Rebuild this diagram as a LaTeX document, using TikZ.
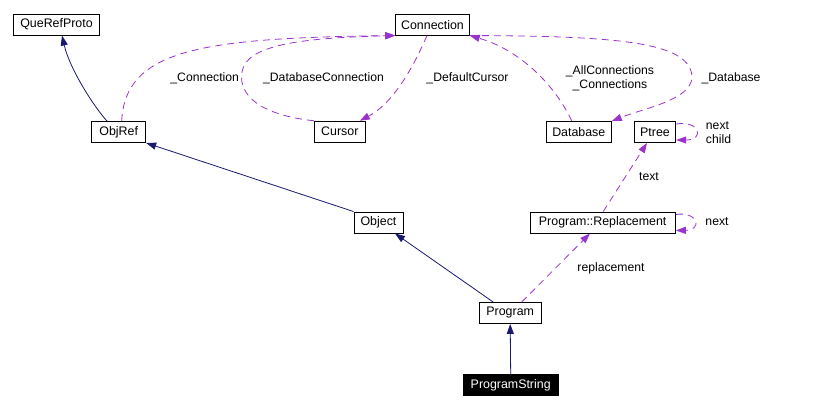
\documentclass[tikz,border=0pt]{standalone}
\usepackage{fontspec}
\setmainfont{Liberation Sans}
\usetikzlibrary{arrows.meta}
\definecolor{inhcol}{HTML}{191970}
\definecolor{usecol}{HTML}{9A32CD}
\tikzset{
  cls/.style={draw=black, fill=white, line width=0.9pt, inner xsep=5pt, inner ysep=0pt,
    minimum height=21pt, font=\fontsize{12.4}{14}\selectfont},
  clsdark/.style={cls, fill=black, text=white},
  inh/.style={draw=inhcol, line width=0.8pt, -{Triangle[length=10pt,width=7pt]}},
  use/.style={draw=usecol, line width=0.8pt, dash pattern=on 7pt off 5pt,
    -{Triangle[length=10pt,width=7pt,fill=usecol]}},
  lbl/.style={inner sep=0pt, font=\fontsize{12.2}{14}\selectfont, align=center},
}
\begin{document}
\begin{tikzpicture}[x=1pt,y=-1pt]
\useasboundingbox (0,0) rectangle (816,409);
\node[cls, minimum width=85.3pt] (querefproto) at (56.5,24.6) {QueRefProto};
\node[cls, minimum width=54pt] (objref) at (118.7,132) {ObjRef};
\node[cls, minimum width=73.6pt] (connection) at (432.5,24.6) {Connection};
\node[cls, minimum width=51pt] (cursor) at (339.8,131.7) {Cursor};
\node[cls, minimum width=65pt] (database) at (578.8,132) {Database};
\node[cls, minimum width=41.4pt] (ptree) at (655,132) {Ptree};
\node[cls, minimum width=49pt] (object) at (378.5,222.5) {Object};
\node[cls, minimum width=145.3pt] (progrep) at (602.7,222.5) {Program::Replacement};
\node[cls, minimum width=61.7pt] (program) at (510.2,313) {Program};
\node[clsdark, minimum width=95.3pt] (progstring) at (510.7,385) {ProgramString};

% inheritance
\draw[inh] ([xshift=-11.7pt]objref.north) .. controls (95,108) and (70,70) .. ([xshift=5.5pt]querefproto.south);
\draw[inh] (object.north west) -- (objref.south east);
\draw[inh] ([xshift=-17pt]program.north) -- ([xshift=16.5pt]object.south);
\draw[inh] (progstring.north) -- (program.south);

% usage
\draw[use] ([xshift=3pt]objref.north) .. controls (125,50) and (200,38) .. (connection.south west);
\draw[use] (cursor.north west) .. controls (260,115) and (238,95) .. (242,72)
  .. controls (246,45) and (300,38) .. (connection.south west);
\draw[use] ([xshift=-5.5pt]connection.south) .. controls (410,75) and (390,105) .. ([xshift=20pt]cursor.north);
\draw[use] ([xshift=-7pt]database.north) .. controls (555,85) and (520,50) .. (connection.south east);
\draw[use] (connection.south east) .. controls (620,36) and (692,42) .. (692,78)
  .. controls (690,100) and (645,108) .. (database.north east);
\draw[use] ([yshift=8pt]ptree.east) .. controls (700,120) and (705,140) .. ([yshift=-8pt]ptree.east);
\draw[use] ([xshift=0.5pt]progrep.north) -- ([xshift=-8pt]ptree.south);
\draw[use] ([yshift=8pt]progrep.east) .. controls (698,211) and (703,230) .. ([yshift=-8pt]progrep.east);
\draw[use] ([xshift=11.5pt]program.north) -- ([xshift=-12.7pt]progrep.south);

% labels
\node[lbl] (l1) at (204.7,78.5) {\_Connection};
\node[lbl] (l2) at (323.5,78.5) {\_DatabaseConnection};
\node[lbl] (l3) at (467.5,78.5) {\_DefaultCursor};
\node[lbl] (l4) at (610,78.5) {\_AllConnections\\\_Connections};
\node[lbl] (l5) at (731,78.5) {\_Database};
\node[lbl, align=left] (l6) at (718.5,133) {next\\child};
\node[lbl] (l7) at (649,177) {text};
\node[lbl] (l8) at (717,222) {next};
\node[lbl] (l9) at (611,268.5) {replacement};
\end{tikzpicture}
\end{document}
